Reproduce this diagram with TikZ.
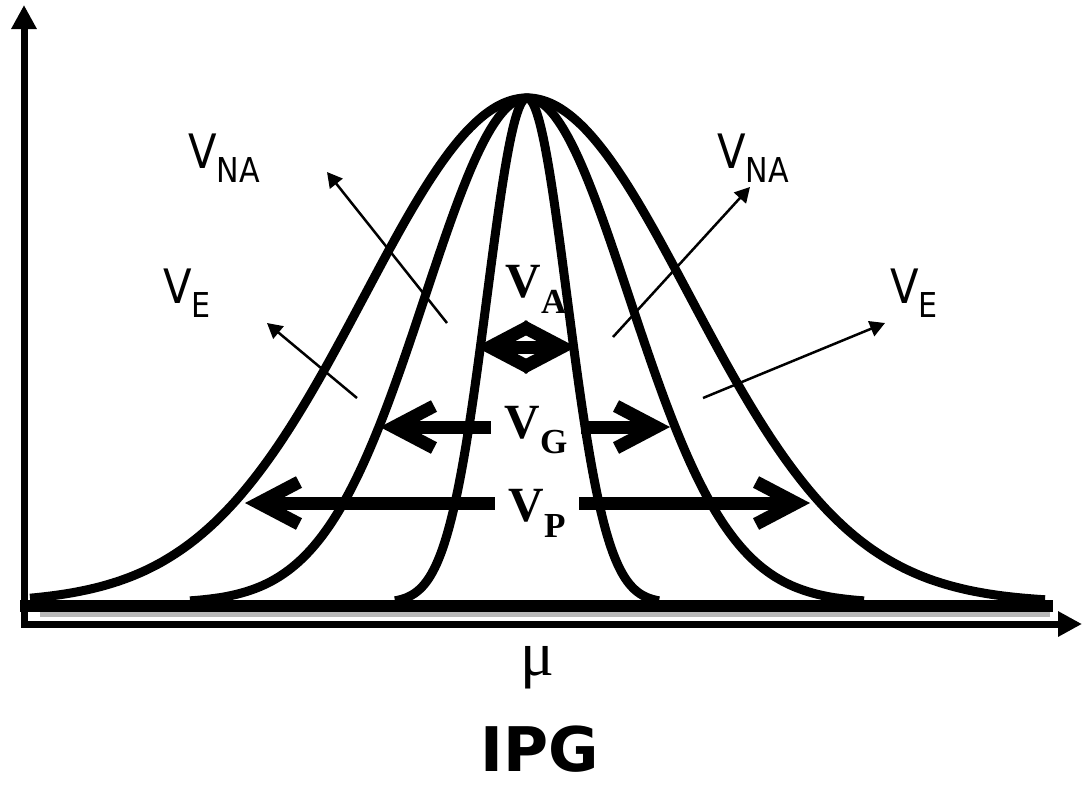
\documentclass[tikz,border=0pt]{standalone}
\usepackage{fontspec}
\setmainfont{DejaVu Sans}
\newfontfamily\labelsans[FakeStretch=0.88]{DejaVu Sans}
\newfontfamily\serifrm{Liberation Serif}
\usetikzlibrary{arrows.meta}

% 下标 (无衬线 / 衬线)
\newcommand{\sanssub}[1]{\raisebox{-8pt}{\fontsize{19.5}{22}\selectfont #1}}
\newcommand{\sersub}[1]{\raisebox{-9pt}{\fontsize{20}{22}\selectfont #1}}

\begin{document}
\begin{tikzpicture}[x=0.2mm, y=-0.2mm,
    fat/.tip={Straight Barb[length=8mm, width=8.4mm]},
    axisline/.style={line width=1.4mm, arrows={Triangle[length=4.8mm, width=4.8mm]-Triangle[length=4.8mm, width=4.8mm]}},
    curve/.style={line width=1.8mm, line join=round},
    fatline/.style={line width=2.6mm},
    thinarr/.style={line width=0.5mm, -{Triangle[length=3mm, width=3.2mm]}},
    sanslbl/.style={anchor=base west, inner sep=0pt, font=\labelsans\fontsize{27}{30}\selectfont},
    serlbl/.style={inner xsep=2.7mm, inner ysep=0pt, font=\serifrm\bfseries\fontsize{28}{30}\selectfont}]

    \useasboundingbox (0,0) rectangle (1084,790);

    % 1. 坐标轴
    \coordinate (O) at (24,624);    % 原点
    \coordinate (Y) at (24,5);      % 纵轴顶端
    \coordinate (X) at (1082,624);  % 横轴右端
    \draw[axisline] (Y) -- (O) -- (X);

    % 2. 三条钟形曲线 (中心 527, 峰顶 98, 底 603)
    \foreach \s/\a/\b in {163/30/1045, 102/190/864, 40/395/659}
        \draw[curve] plot[domain=\a:\b, samples=160, smooth]
            (\x, {603-505*exp(-0.5*((\x-527)/\s)^2)});

    % 底部粗线
    \draw[gray!55, line width=1mm] (40,614) -- (1050,614);
    \draw[line width=2.4mm] (20,606) -- (1053,606);

    % 3. 中间的粗箭头 V_A, V_G, V_P
    \node[serlbl] (VA) at (536,289) {V\sersub{A}};
    \node[serlbl] (VG) at (536,430) {V\sersub{G}};
    \node[serlbl] (VP) at (537,513) {V\sersub{P}};

    \coordinate (AL) at (476,347);
    \coordinate (AR) at (576,347);
    \draw[fatline, fat-fat] (AL) -- (AR);

    \coordinate (GL) at (380,427);
    \coordinate (GR) at (670,427);
    \draw[fatline, -fat] (VG.west |- GL) -- (GL);
    \draw[fatline, -fat] (VG.east |- GR) -- (GR);

    \coordinate (PL) at (245,503);
    \coordinate (PR) at (810,503);
    \draw[fatline, -fat] (VP.west |- PL) -- (PL);
    \draw[fatline, -fat] (VP.east |- PR) -- (PR);

    % 4. 细箭头和 V_NA, V_E 标签
    \node[sanslbl] (NAL) at (188,168) {V\sanssub{NA}};
    \node[sanslbl] (NAR) at (717,168) {V\sanssub{NA}};
    \node[sanslbl] (EL) at (163,303) {V\sanssub{E}};
    \node[sanslbl] (ER) at (890,303) {V\sanssub{E}};

    \coordinate (a1) at (447,323);  \coordinate (b1) at (327,172);
    \coordinate (a2) at (357,398);  \coordinate (b2) at (267,323);
    \coordinate (a3) at (613,337);  \coordinate (b3) at (750,187);
    \coordinate (a4) at (703,398);  \coordinate (b4) at (885,323);
    \foreach \i in {1,...,4}
        \draw[thinarr] (a\i) -- (b\i);

    % 5. 横轴标记 mu 和标题
    \node[font=\serifrm\fontsize{36}{40}\selectfont] (mu) at (537,668) {μ};
    \node[inner sep=0pt, font=\bfseries\fontsize{35}{40}\selectfont] (title) at (540,749) {IPG};

\end{tikzpicture}
\end{document}
